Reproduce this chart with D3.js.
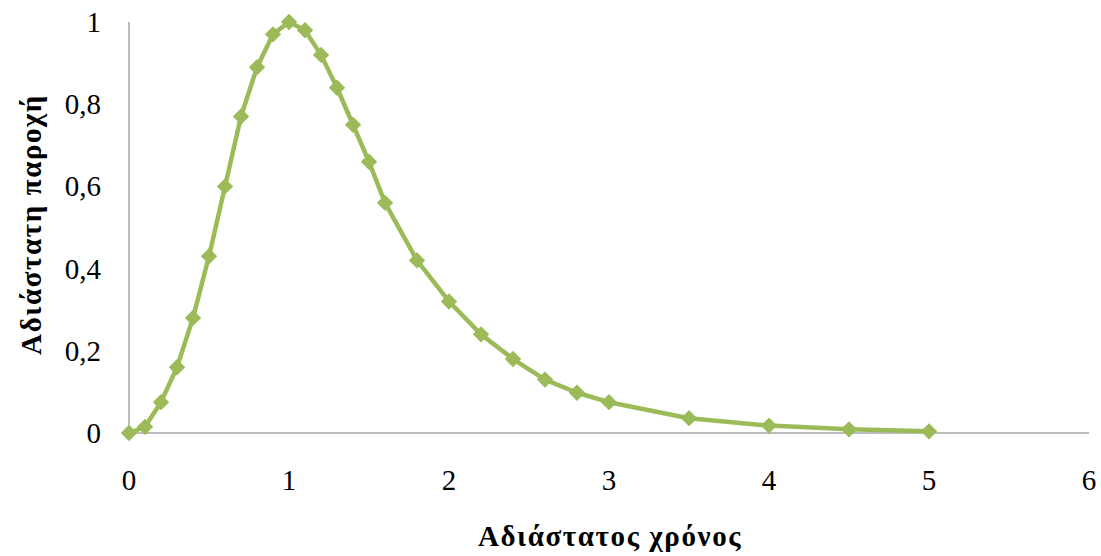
<!DOCTYPE html>
<html><head><meta charset="utf-8">
<script src="https://cdn.jsdelivr.net/npm/d3@7"></script>
<style>body{margin:0;background:#fff}</style>
</head><body>
<svg id="c" width="1101" height="556"></svg>
<script>
const tValues = [0,0.1,0.2,0.3,0.4,0.5,0.6,0.7,0.8,0.9,1.0,1.1,1.2,1.3,1.4,1.5,1.6,1.8,2.0,2.2,2.4,2.6,2.8,3.0,3.5,4.0,4.5,5.0];
const qValues = [0,0.015,0.075,0.16,0.28,0.43,0.60,0.77,0.89,0.97,1.00,0.98,0.92,0.84,0.75,0.66,0.56,0.42,0.32,0.24,0.18,0.13,0.098,0.075,0.036,0.018,0.009,0.004];
const xTicks = [0,1,2,3,4,5,6];
const yTicks = [0,0.2,0.4,0.6,0.8,1];
const xTitle = "Αδιάστατος χρόνος";
const yTitle = "Αδιάστατη παροχή";

const svg = d3.select("#c");
const x = d3.scaleLinear().domain([0,6]).range([129,1089]);
const y = d3.scaleLinear().domain([0,1]).range([433,22]);
const fmt = d => d3.format("")(d).replace(".", ",");
const font = "'Liberation Serif','Times New Roman',serif";

svg.append("line").attr("x1",x(0)).attr("x2",x(6)).attr("y1",y(0)).attr("y2",y(0))
  .attr("stroke","#a6a6a6").attr("stroke-width",1.5);
svg.append("line").attr("x1",x(0)).attr("x2",x(0)).attr("y1",y(0)).attr("y2",y(1))
  .attr("stroke","#a6a6a6").attr("stroke-width",1.5);

svg.selectAll("text.xt").data(xTicks).join("text").attr("class","xt")
  .attr("x",d=>x(d)).attr("y",490).attr("text-anchor","middle")
  .style("font-family",font).style("font-size","29px").text(d=>fmt(d));
svg.selectAll("text.yt").data(yTicks).join("text").attr("class","yt")
  .attr("x",101).attr("y",d=>y(d)+10).attr("text-anchor","end")
  .style("font-family",font).style("font-size","29px").text(d=>fmt(d));

svg.append("text").attr("x",(x(0)+x(6))/2+1).attr("y",546).attr("text-anchor","middle")
  .style("font-family",font).style("font-size","29px").style("font-weight","bold")
  .style("letter-spacing","1.6px").text(xTitle);
svg.append("text").attr("transform",`translate(41,${(y(0)+y(1))/2-3}) rotate(-90)`).attr("text-anchor","middle")
  .style("font-family",font).style("font-size","29px").style("font-weight","bold")
  .style("letter-spacing","1.6px").text(yTitle);

const pts = tValues.map((t,i)=>[t,qValues[i]]);
svg.append("path").datum(pts)
  .attr("d", d3.line().x(d=>x(d[0])).y(d=>y(d[1])))
  .attr("fill","none").attr("stroke","#9bbb59").attr("stroke-width",4.5).attr("stroke-linejoin","round");
const sym = d3.symbol().type(d3.symbolDiamond2).size(170);
svg.selectAll("path.m").data(pts).join("path").attr("class","m")
  .attr("transform",d=>`translate(${x(d[0])},${y(d[1])})`)
  .attr("d",sym).attr("fill","#9bbb59");
</script>
</body></html>
